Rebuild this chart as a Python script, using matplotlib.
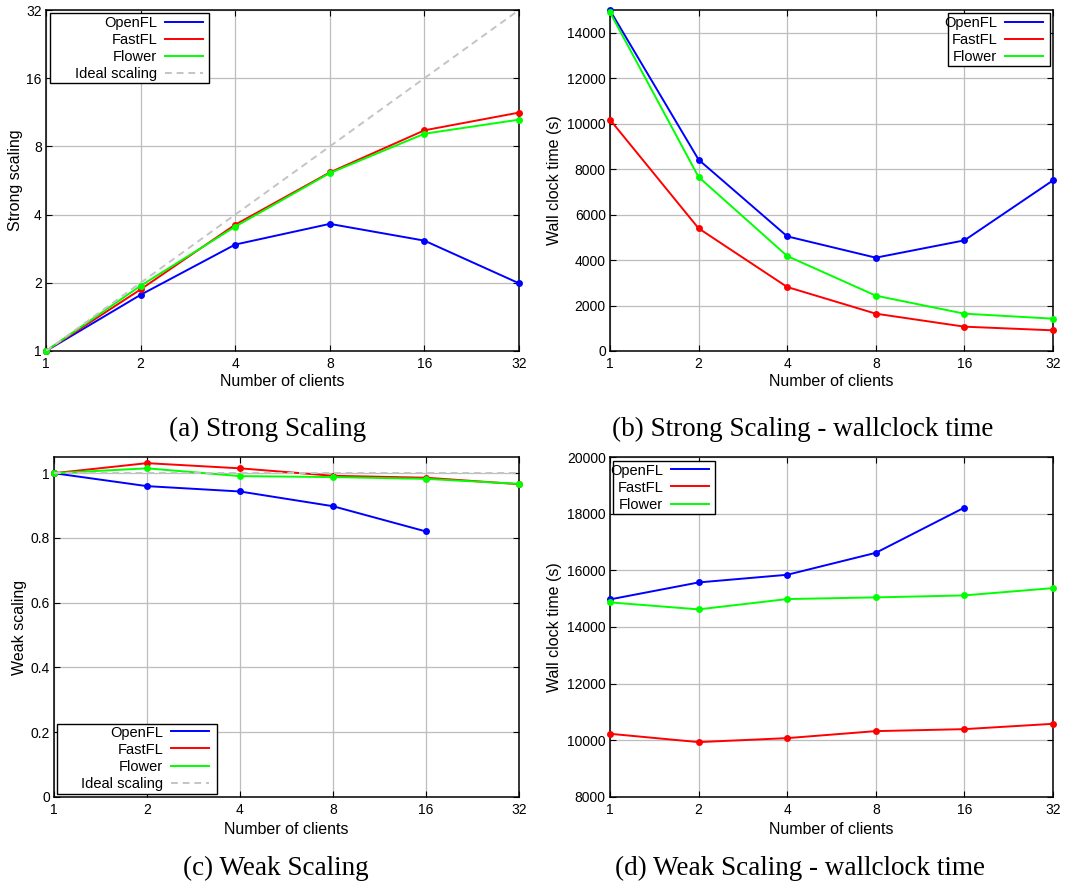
import matplotlib
matplotlib.use("Agg")
import matplotlib.pyplot as plt
from matplotlib.lines import Line2D
from matplotlib.patches import Rectangle

plt.rcParams['font.family'] = ['Liberation Sans', 'DejaVu Sans']

# ---------------- data ----------------
clients = [1, 2, 4, 8, 16, 32]
clients_weak_openfl = [1, 2, 4, 8, 16]

# (a) strong scaling (speed-up)
strong_openfl = [1.0, 1.77, 2.95, 3.64, 3.07, 1.99]
strong_fastfl = [1.0, 1.87, 3.61, 6.14, 9.42, 11.28]
strong_flower = [1.0, 1.94, 3.54, 6.10, 9.10, 10.50]
strong_ideal = [1, 2, 4, 8, 16, 32]

# (b) strong scaling wall clock time (s)
strong_time_openfl = [14983, 8415, 5043, 4105, 4867, 7506]
strong_time_fastfl = [10174, 5395, 2815, 1642, 1070, 909]
strong_time_flower = [14895, 7653, 4178, 2434, 1642, 1422]

# (c) weak scaling (efficiency)
weak_openfl = [1.0, 0.960, 0.9435, 0.898, 0.820]
weak_fastfl = [1.0, 1.031, 1.015, 0.992, 0.986, 0.966]
weak_flower = [1.0, 1.015, 0.991, 0.988, 0.9825, 0.967]
weak_ideal = [1, 1, 1, 1, 1, 1]

# (d) weak scaling wall clock time (s)
weak_time_openfl = [14974, 15573, 15843, 16618, 18215]
weak_time_fastfl = [10231, 9937, 10078, 10325, 10395, 10583]
weak_time_flower = [14869, 14622, 14986, 15045, 15115, 15373]

series_names = ["OpenFL", "FastFL", "Flower"]
ideal_name = "Ideal scaling"
x_tick_labels = ["1", "2", "4", "8", "16", "32"]
captions = ["(a) Strong Scaling", "(b) Strong Scaling - wallclock time",
            "(c) Weak Scaling", "(d) Weak Scaling - wallclock time"]

# ---------------- style ----------------
C_BLUE, C_RED, C_GREEN, C_IDEAL = "#0000ff", "#ff0000", "#00ff00", "#c4c4c4"
LW = 1.4
MS = 5.0
IDEAL_DASH = (0, (3.5, 2.5))

W, H = 1065, 894
fig = plt.figure(figsize=(W / 100, H / 100), dpi=100)


def make_axes(L, R, T, B):
    ax = fig.add_axes([L / W, 1 - B / H, (R - L) / W, (B - T) / H])
    ax.box = (L, R, T, B)
    ax.set_xscale('log', base=2)
    ax.set_xlim(1, 32)
    ax.set_xticks(clients)
    ax.set_xticklabels(x_tick_labels)
    ax.xaxis.set_minor_locator(matplotlib.ticker.NullLocator())
    ax.tick_params(direction='in', length=4, width=0.8, top=True, right=True,
                   labelsize=10, pad=3, colors='black')
    ax.tick_params(axis='x', pad=4)
    ax.grid(True, color='#bdbdbd', lw=0.9)
    ax.set_axisbelow(True)
    for s in ax.spines.values():
        s.set_linewidth(1.1)
        s.set_color('black')
    return ax


def fx(ax, px):
    L, R, T, B = ax.box
    return (px - L) / (R - L)


def fy(ax, py):
    L, R, T, B = ax.box
    return (B - py) / (B - T)


def labels(ax, xlabel_y, ylabel, ylabel_x):
    ax.set_xlabel("Number of clients", fontsize=11.5)
    ax.xaxis.label.set_va('center')
    ax.xaxis.set_label_coords(0.5, fy(ax, xlabel_y))
    ax.set_ylabel(ylabel, fontsize=11.5)
    ax.yaxis.label.set_va('center')
    ax.yaxis.set_label_coords(fx(ax, ylabel_x), 0.5)


def legend(ax, with_ideal, frame, anchor):
    x0, x1, y0, y1 = frame
    rect = Rectangle((fx(ax, x0), fy(ax, y1)), fx(ax, x1) - fx(ax, x0),
                     fy(ax, y0) - fy(ax, y1), transform=ax.transAxes,
                     facecolor='white', edgecolor='black', lw=1.0, zorder=6,
                     clip_on=False)
    ax.add_patch(rect)
    hs = [Line2D([], [], color=C_BLUE, lw=LW),
          Line2D([], [], color=C_RED, lw=LW),
          Line2D([], [], color=C_GREEN, lw=LW)]
    names = list(series_names)
    if with_ideal:
        hs.append(Line2D([], [], color=C_IDEAL, lw=LW, linestyle=IDEAL_DASH))
        names.append(ideal_name)
    leg = ax.legend(hs, names, loc='upper right',
                    bbox_to_anchor=(fx(ax, anchor[0]), fy(ax, anchor[1])),
                    frameon=False, markerfirst=False, borderpad=0,
                    borderaxespad=0, handlelength=2.6, handletextpad=0.55,
                    labelspacing=0.21, fontsize=10.5)
    leg.set_zorder(7)


def plot_series(ax, x, y, color):
    ax.plot(x, y, color=color, lw=LW, marker='o', ms=MS, mew=0, zorder=3,
            clip_on=False)


# ---------------- (a) ----------------
axA = make_axes(46, 519, 10, 351)
plot_series(axA, clients, strong_openfl, C_BLUE)
plot_series(axA, clients, strong_fastfl, C_RED)
plot_series(axA, clients, strong_flower, C_GREEN)
axA.plot(clients, strong_ideal, color=C_IDEAL, lw=LW, linestyle=IDEAL_DASH, zorder=4)
axA.set_yscale('log', base=2)
axA.set_ylim(1, 32)
axA.set_yticks([1, 2, 4, 8, 16, 32])
axA.set_yticklabels(["1", "2", "4", "8", "16", "32"])
axA.yaxis.set_minor_locator(matplotlib.ticker.NullLocator())
labels(axA, 382, "Strong scaling", 16)
legend(axA, True, (50, 209, 13, 83), (203, 15.8))

# ---------------- (b) ----------------
axB = make_axes(610, 1053, 10, 351)
plot_series(axB, clients, strong_time_openfl, C_BLUE)
plot_series(axB, clients, strong_time_fastfl, C_RED)
plot_series(axB, clients, strong_time_flower, C_GREEN)
axB.set_ylim(0, 15000)
axB.set_yticks(range(0, 14001, 2000))
labels(axB, 382, "Wall clock time (s)", 554)
legend(axB, False, (948, 1050, 13, 66), (1043, 15.8))

# ---------------- (c) ----------------
axC = make_axes(54, 519, 457, 797)
plot_series(axC, clients_weak_openfl, weak_openfl, C_BLUE)
plot_series(axC, clients, weak_fastfl, C_RED)
plot_series(axC, clients, weak_flower, C_GREEN)
axC.plot(clients, weak_ideal, color=C_IDEAL, lw=LW, linestyle=IDEAL_DASH, zorder=4)
axC.set_ylim(0, 1.05)
axC.set_yticks([0, 0.2, 0.4, 0.6, 0.8, 1.0])
axC.set_yticklabels(["0", "0.2", "0.4", "0.6", "0.8", "1"])
labels(axC, 829, "Weak scaling", 20)
legend(axC, True, (57, 217, 724, 794), (209, 725.5))

# ---------------- (d) ----------------
axD = make_axes(610, 1053, 457, 797)
plot_series(axD, clients_weak_openfl, weak_time_openfl, C_BLUE)
plot_series(axD, clients, weak_time_fastfl, C_RED)
plot_series(axD, clients, weak_time_flower, C_GREEN)
axD.set_ylim(8000, 20000)
axD.set_yticks(range(8000, 20001, 2000))
labels(axD, 829, "Wall clock time (s)", 554)
legend(axD, False, (613, 715, 461, 514), (709, 463.5))

# ---------------- captions ----------------
cap_pos = [(268, 436), (803, 436), (276, 875), (800, 875)]
for text, (cx, cy) in zip(captions, cap_pos):
    fig.text(cx / W, 1 - cy / H, text, ha='center', va='baseline',
             fontsize=19.5, family=['Liberation Serif', 'DejaVu Serif'])

fig.savefig("out.png", dpi=100)
